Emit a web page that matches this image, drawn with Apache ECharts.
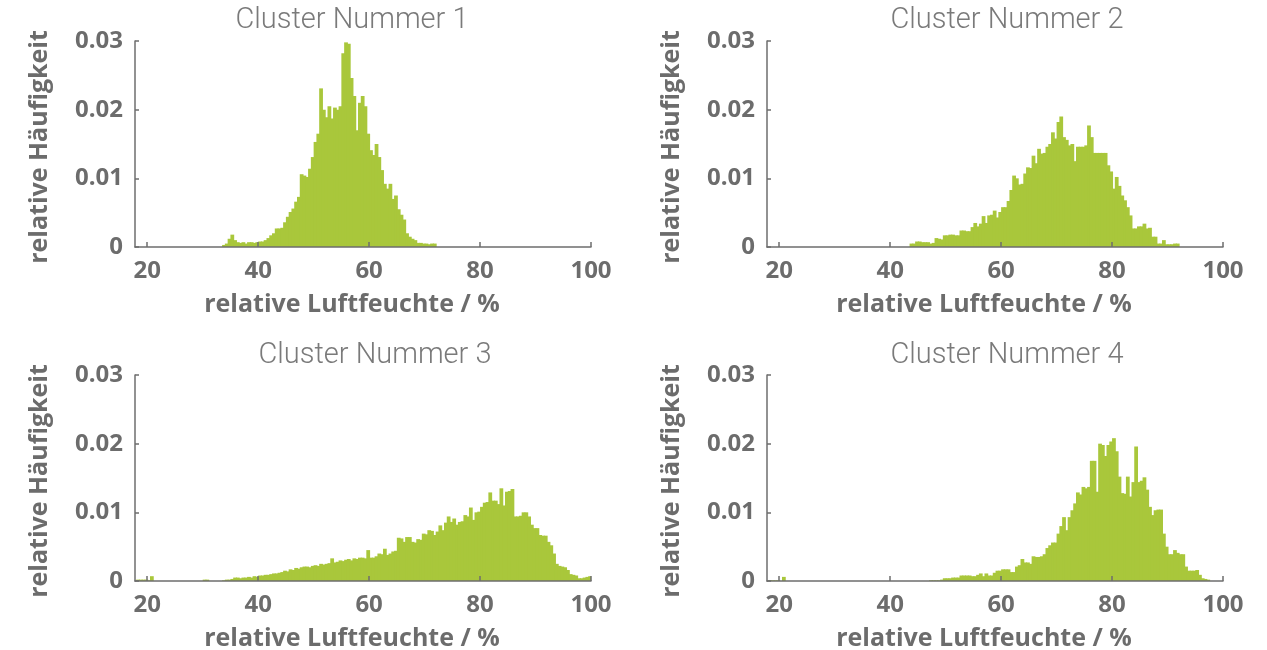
<!DOCTYPE html>
<html>
<head>
<meta charset="utf-8">
<script src="https://cdn.jsdelivr.net/npm/echarts@6/dist/echarts.min.js"></script>
<style>
  html, body { margin: 0; padding: 0; background: #ffffff; }
  #chart { width: 1267px; height: 650px; }
</style>
</head>
<body>
<div id="chart"></div>
<script>
// Histogram of relative humidity per cluster, bins of 0.5 %
const binWidth = 0.5;
const xTicks = [20, 40, 60, 80, 100];
const yTicks = [0, 0.01, 0.02, 0.03];
const titles = ['Cluster Nummer 1', 'Cluster Nummer 2', 'Cluster Nummer 3', 'Cluster Nummer 4'];
const xName = 'relative Luftfeuchte / %';
const yName = 'relative Häufigkeit';

// first bin edge of each cluster
const cluster1Start = 33.5;
const cluster1Values = [
  0.0003, 0.0005, 0.0012, 0.0018, 0.0010, 0.0007, 0.0006, 0.0007, 0.0005, 0.0007,
  0.0007, 0.0006, 0.0007, 0.0008, 0.0008, 0.0010, 0.0013, 0.0017, 0.0020, 0.0027,
  0.0027, 0.0028, 0.0036, 0.0044, 0.0051, 0.0056, 0.0066, 0.0073, 0.0106, 0.0104,
  0.0102, 0.0114, 0.0131, 0.0153, 0.0165, 0.0231, 0.0200, 0.0189, 0.0205, 0.0187,
  0.0203, 0.0200, 0.0205, 0.0282, 0.0298, 0.0296, 0.0246, 0.0220, 0.0170, 0.0210,
  0.0220, 0.0205, 0.0165, 0.0141, 0.0134, 0.0150, 0.0131, 0.0112, 0.0092, 0.0085,
  0.0092, 0.0070, 0.0075, 0.0055, 0.0047, 0.0040, 0.0020, 0.0015, 0.0012, 0.0010,
  0.0006, 0.0006, 0.0005, 0.0005, 0.0004, 0.0005, 0.0005
];

const cluster2Start = 43.5;
const cluster2Values = [
  0.0005, 0.0005, 0.0008, 0.0008, 0.0007, 0.0007, 0.0007, 0.0005, 0.0006, 0.0013,
  0.0012, 0.0011, 0.0017, 0.0017, 0.0018, 0.0018, 0.0017, 0.0017, 0.0024, 0.0024,
  0.0023, 0.0023, 0.0029, 0.0035, 0.0030, 0.0034, 0.0045, 0.0035, 0.0046, 0.0047,
  0.0053, 0.0043, 0.0051, 0.0058, 0.0058, 0.0067, 0.0083, 0.0104, 0.0100, 0.0091,
  0.0092, 0.0107, 0.0116, 0.0115, 0.0133, 0.0122, 0.0143, 0.0136, 0.0137, 0.0146,
  0.0150, 0.0167, 0.0158, 0.0182, 0.0190, 0.0160, 0.0156, 0.0148, 0.0150, 0.0125,
  0.0146, 0.0146, 0.0146, 0.0148, 0.0177, 0.0160, 0.0137, 0.0137, 0.0137, 0.0137,
  0.0137, 0.0119, 0.0110, 0.0085, 0.0102, 0.0089, 0.0075, 0.0068, 0.0058, 0.0046,
  0.0027, 0.0027, 0.0030, 0.0030, 0.0034, 0.0027, 0.0028, 0.0015, 0.0015, 0.0005,
  0.0005, 0.0010, 0.0004, 0.0004, 0.0004, 0.0005, 0.0005
];

const cluster3Start = 18.0;
const cluster3Values = [
  0.0002, 0.0002, 0.0002, 0.0002, 0.0001, 0.0007, 0, 0, 0, 0,
  0, 0, 0, 0, 0, 0, 0, 0, 0, 0,
  0, 0, 0, 0, 0.0002, 0.0002, 0, 0, 0, 0,
  0, 0.0001, 0.0002, 0.0002, 0.0003, 0.0005, 0.0005, 0.0004, 0.0005, 0.0005,
  0.0006, 0.0005, 0.0007, 0.0006, 0.0008, 0.0008, 0.0009, 0.0009, 0.0010, 0.0011,
  0.0011, 0.0012, 0.0013, 0.0015, 0.0014, 0.0017, 0.0016, 0.0019, 0.0018, 0.0020,
  0.0021, 0.0021, 0.0020, 0.0022, 0.0023, 0.0022, 0.0025, 0.0024, 0.0025, 0.0026,
  0.0033, 0.0027, 0.0028, 0.0030, 0.0029, 0.0031, 0.0032, 0.0030, 0.0033, 0.0032,
  0.0034, 0.0034, 0.0033, 0.0045, 0.0034, 0.0034, 0.0036, 0.0040, 0.0039, 0.0047,
  0.0038, 0.0040, 0.0043, 0.0044, 0.0063, 0.0062, 0.0057, 0.0064, 0.0064, 0.0057,
  0.0056, 0.0061, 0.0060, 0.0069, 0.0068, 0.0074, 0.0073, 0.0067, 0.0072, 0.0081,
  0.0074, 0.0085, 0.0094, 0.0086, 0.0091, 0.0082, 0.0086, 0.0087, 0.0096, 0.0094,
  0.0107, 0.0089, 0.0100, 0.0101, 0.0108, 0.0114, 0.0115, 0.0129, 0.0117, 0.0117,
  0.0112, 0.0135, 0.0110, 0.0130, 0.0131, 0.0134, 0.0094, 0.0094, 0.0095, 0.0100,
  0.0100, 0.0094, 0.0082, 0.0077, 0.0077, 0.0067, 0.0066, 0.0066, 0.0057, 0.0052,
  0.0040, 0.0025, 0.0022, 0.0021, 0.0020, 0.0016, 0.0010, 0.0009, 0.0008, 0.0004,
  0.0004, 0.0005, 0.0006, 0.0007
];

const cluster4Start = 18.0;
const cluster4Values = [
  0.0001, 0.0001, 0.0001, 0.0001, 0, 0.0006, 0, 0, 0, 0,
  0, 0, 0, 0, 0, 0, 0, 0, 0, 0,
  0, 0, 0, 0, 0, 0, 0, 0, 0, 0,
  0, 0, 0, 0, 0, 0, 0, 0, 0, 0,
  0, 0, 0, 0, 0, 0, 0, 0, 0, 0,
  0, 0, 0, 0, 0, 0, 0, 0, 0.0001, 0.0001,
  0.0001, 0.0001, 0.0002, 0.0004, 0.0004, 0.0004, 0.0005, 0.0005, 0.0005, 0.0008,
  0.0008, 0.0008, 0.0008, 0.0007, 0.0007, 0.0009, 0.0011, 0.0007, 0.0011, 0.0008,
  0.0008, 0.0012, 0.0015, 0.0015, 0.0017, 0.0017, 0.0017, 0.0013, 0.0013, 0.0021,
  0.0023, 0.0032, 0.0027, 0.0027, 0.0025, 0.0036, 0.0035, 0.0035, 0.0036, 0.0039,
  0.0048, 0.0052, 0.0056, 0.0056, 0.0069, 0.0080, 0.0093, 0.0074, 0.0093, 0.0103,
  0.0113, 0.0129, 0.0126, 0.0137, 0.0135, 0.0137, 0.0175, 0.0175, 0.0130, 0.0200,
  0.0198, 0.0182, 0.0198, 0.0203, 0.0208, 0.0189, 0.0152, 0.0128, 0.0127, 0.0152,
  0.0123, 0.0144, 0.0196, 0.0144, 0.0146, 0.0151, 0.0133, 0.0108, 0.0096, 0.0103,
  0.0104, 0.0104, 0.0069, 0.0050, 0.0039, 0.0039, 0.0045, 0.0041, 0.0039, 0.0039,
  0.0021, 0.0015, 0.0015, 0.0015, 0.0016, 0.0009, 0.0004, 0.0003, 0.0002
];

const clusters = [
  { start: cluster1Start, values: cluster1Values },
  { start: cluster2Start, values: cluster2Values },
  { start: cluster3Start, values: cluster3Values },
  { start: cluster4Start, values: cluster4Values }
];

const barColor = '#a9c73b';
const axisColor = '#6e6e6e';
const labelColor = '#6c6c6c';
const titleColor = '#7a7a7a';
const boldFont = '"Open Sans", Roboto, sans-serif';
const lightFont = 'Roboto, "Open Sans", sans-serif';

// panel geometry: [left, top]
const panels = [[135, 41], [767, 41], [135, 375], [767, 375]];
const gridW = 456, gridH = 206;
const titleCenters = [[352, 6], [1007, 6], [375, 341], [1007, 341]];

function bins(c) {
  return c.values.map((v, i) => {
    const x0 = c.start + i * binWidth;
    return [x0, x0 + binWidth, v];
  });
}

function renderBin(params, api) {
  const p0 = api.coord([api.value(0), api.value(2)]);
  const p1 = api.coord([api.value(1), 0]);
  return {
    type: 'rect',
    shape: { x: p0[0], y: p0[1], width: p1[0] - p0[0] + 1, height: p1[1] - p0[1] },
    style: { fill: barColor }
  };
}

const option = {
  backgroundColor: '#ffffff',
  animation: false,
  title: titles.map((t, i) => ({
    text: t,
    left: titleCenters[i][0],
    top: titleCenters[i][1],
    textAlign: 'center',
    padding: 0,
    textStyle: { fontFamily: lightFont, fontWeight: 300, fontSize: 29, color: titleColor }
  })),
  grid: panels.map(p => ({
    left: p[0], top: p[1], width: gridW, height: gridH,
    containLabel: false, outerBoundsMode: 'none'
  })),
  xAxis: panels.map((p, i) => ({
    type: 'value',
    gridIndex: i,
    min: 17.8,
    max: 100,
    z: 5,
    name: xName,
    nameLocation: 'middle',
    nameGap: 45,
    nameTextStyle: { fontFamily: boldFont, fontWeight: 'bold', fontSize: 25, color: labelColor, padding: [0, 22, 0, 0] },
    splitLine: { show: false },
    axisLine: { show: true, onZero: false, lineStyle: { color: axisColor, width: 1.5 } },
    axisTick: { show: true, inside: true, length: 5, customValues: xTicks, lineStyle: { color: axisColor, width: 1.5 } },
    axisLabel: { customValues: xTicks, margin: 12, fontFamily: boldFont, fontWeight: 'bold', fontSize: 24, color: labelColor }
  })),
  yAxis: panels.map((p, i) => ({
    type: 'value',
    gridIndex: i,
    min: 0,
    max: 0.03,
    interval: 0.01,
    z: 5,
    name: yName,
    nameLocation: 'middle',
    nameGap: 83,
    nameTextStyle: { fontFamily: boldFont, fontWeight: 'bold', fontSize: 25, color: labelColor, padding: [0, 6, 0, 0] },
    splitLine: { show: false },
    axisLine: { show: true, lineStyle: { color: axisColor, width: 1.5 } },
    axisTick: { show: true, inside: true, length: 4, lineStyle: { color: axisColor, width: 1.5 } },
    axisLabel: {
      margin: 12, fontFamily: boldFont, fontWeight: 'bold', fontSize: 24, color: labelColor,
      formatter: v => String(yTicks.find(t => Math.abs(t - v) < 1e-9) ?? v)
    }
  })),
  series: clusters.map((c, i) => ({
    type: 'custom',
    xAxisIndex: i,
    yAxisIndex: i,
    clip: true,
    renderItem: renderBin,
    encode: { x: [0, 1], y: 2 },
    data: bins(c)
  }))
};

const chart = echarts.init(document.getElementById('chart'), null, { renderer: 'canvas' });
chart.setOption(option);
</script>
</body>
</html>
